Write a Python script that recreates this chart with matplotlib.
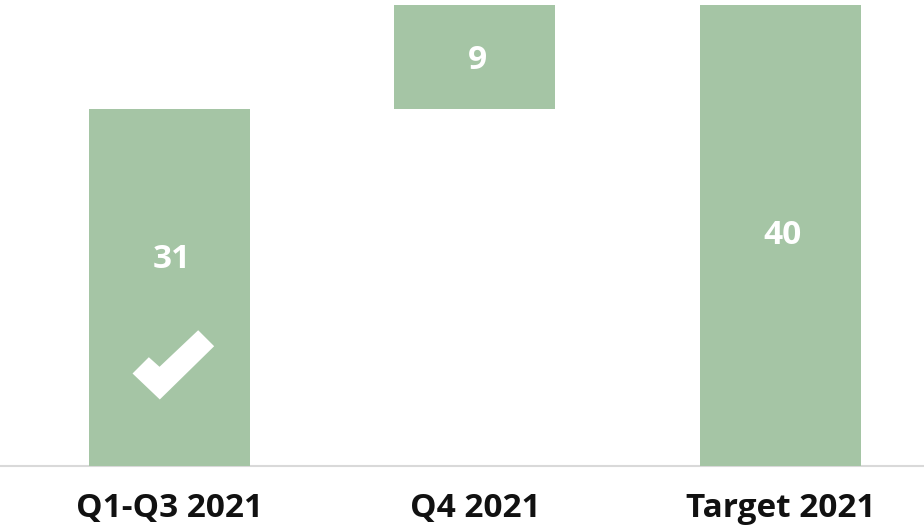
import numpy as np
import matplotlib
matplotlib.use("Agg")
import matplotlib.pyplot as plt
from matplotlib.path import Path

categories = ["Q1-Q3 2021", "Q4 2021", "Target 2021"]
values = [31, 9, 40]
bottoms = [0, 31, 0]

bar_color = "#a5c5a5"
plt.rcParams['font.family'] = ['Open Sans', 'DejaVu Sans']

fig = plt.figure(figsize=(9.24, 5.26), dpi=100)
ax = fig.add_axes([0, 60 / 526, 1, 466 / 526])

x = np.arange(len(categories))
bars = ax.bar(x, values, bottom=bottoms, width=0.527, color=bar_color, zorder=2)

# value labels in white; the first one sits higher to leave room for the tick mark
label_y = [17.9, bottoms[1] + values[1] / 2 - 0.3, values[2] / 2]
for xi, v, ly in zip(x, values, label_y):
    ax.text(xi + 0.008, ly, str(v), ha="center", va="center", color="white",
            fontsize=24, fontweight="bold", zorder=3)

# white check mark inside the first bar
check = Path([(-41, -8), (-24.7, 8.3), (-14, -1.3), (24.7, 35.3),
              (40.7, 19.3), (-13.7, -34), (-41, -8)],
             [Path.MOVETO] + [Path.LINETO] * 5 + [Path.CLOSEPOLY])
ax.plot([x[0] + 0.01], [8.76], marker=check, markersize=59, color="white",
        markeredgewidth=0, linestyle="none", zorder=3)

ax.set_xlim(-0.555, 2.47)
ax.set_ylim(0, 40.43)
ax.set_yticks([])
ax.set_xticks(x)
ax.set_xticklabels(categories, fontsize=24, fontweight="bold", color="#111111")
ax.tick_params(axis="x", length=0, pad=19)
for side in ["top", "left", "right"]:
    ax.spines[side].set_visible(False)
ax.spines["bottom"].set_color("#d9d9d9")
ax.spines["bottom"].set_linewidth(1.5)
ax.spines["bottom"].set_zorder(1)

fig.savefig("out.png", dpi=100)
